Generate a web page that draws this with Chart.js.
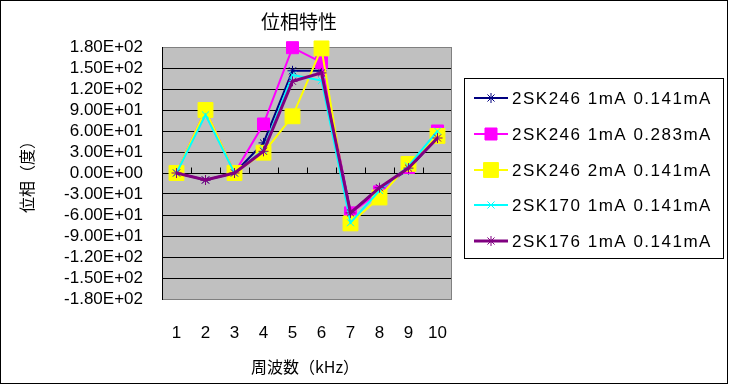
<!DOCTYPE html>
<html>
<head>
<meta charset="utf-8">
<script src="https://cdn.jsdelivr.net/npm/chart.js@4.4.1/dist/chart.umd.min.js"></script>
<style>
  html, body { margin: 0; padding: 0; background: #fff; }
</style>
</head>
<body>
<canvas id="myChart" width="732" height="385"></canvas>
<script>
let labels = ['1', '2', '3', '4', '5', '6', '7', '8', '9', '10'];
let seriesNames = ['2SK246 1mA 0.141mA', '2SK246 1mA 0.283mA', '2SK246 2mA 0.141mA', '2SK170 1mA 0.141mA', '2SK176 1mA 0.141mA'];
let sk246a = [0, -10, 0, 43, 146, 146, -56, -22, 5, 52];
let sk246b = [0, 90, 0, 70, 179, 158, -57, -27, 8, 60];
let sk246c = [0, 90, 0, 29, 81, 178, -72, -35, 13, 53];
let sk170 = [0, 83, 0, 33, 140, 132, -71, -25, 10, 60];
let sk176 = [0, -10, 0, 31, 131, 143, -57, -21, 7, 50];
let yTicks = [-180, -150, -120, -90, -60, -30, 0, 30, 60, 90, 120, 150, 180];

let tickFont = { family: 'Liberation Sans', size: 17 };
let jpFont = '"Noto Sans CJK JP"';

function sci(v) {
  if (v === 0) return '0.00E+00';
  let e = Math.floor(Math.log10(Math.abs(v)));
  let m = v / Math.pow(10, e);
  return m.toFixed(2) + 'E+' + String(e).padStart(2, '0');
}

function series(i, data, color, style, radius, width, order) {
  return {
    label: seriesNames[i],
    data: data,
    borderColor: color,
    backgroundColor: color,
    borderWidth: width,
    pointStyle: style,
    pointRadius: radius,
    pointBorderWidth: 1,
    pointBorderColor: color,
    pointBackgroundColor: color,
    tension: 0,
    clip: false,
    order: order
  };
}

let datasets = [
  series(0, sk246a, '#000080', 'star', 5, 2, 5),
  series(1, sk246b, '#FF00FF', 'rect', 8.5, 2, 4),
  series(2, sk246c, '#FFFF00', 'rect', 10.5, 2, 3),
  series(3, sk170, '#00FFFF', 'crossRot', 5, 2, 2),
  series(4, sk176, '#800080', 'star', 5, 3, 1)
];

// gray plot background, right border, little ticks on the zero line
let plotDecor = {
  id: 'plotDecor',
  beforeDraw(chart) {
    let a = chart.chartArea;
    let c = chart.ctx;
    c.save();
    c.fillStyle = '#C0C0C0';
    c.fillRect(a.left, a.top, a.right - a.left, a.bottom - a.top);
    c.restore();
  },
  beforeDatasetsDraw(chart) {
    let a = chart.chartArea;
    let c = chart.ctx;
    let xs = chart.scales.x;
    let y0 = Math.round(chart.scales.y.getPixelForValue(0)) + 0.5;
    c.save();
    c.strokeStyle = '#808080';
    c.lineWidth = 1;
    c.beginPath();
    c.moveTo(a.right - 0.5, a.top);
    c.lineTo(a.right - 0.5, a.bottom);
    c.stroke();
    c.strokeStyle = '#000';
    c.beginPath();
    for (let i = 1; i < labels.length; i++) {
      let x = Math.round((xs.getPixelForValue(i - 1) + xs.getPixelForValue(i)) / 2) + 0.5;
      c.moveTo(x, y0);
      c.lineTo(x, y0 - 6);
    }
    c.stroke();
    c.restore();
  }
};

// titles, legend box and outer frame
let extras = {
  id: 'extras',
  afterDraw(chart) {
    let c = chart.ctx;
    c.save();
    c.fillStyle = '#000';
    c.textAlign = 'center';
    c.textBaseline = 'middle';
    c.font = '19px ' + jpFont;
    c.fillText('位相特性', 299, 22);
    c.font = '16px ' + jpFont;
    c.fillText('周波数（kHz）', 305, 367);
    c.save();
    c.translate(27, 173);
    c.rotate(-Math.PI / 2);
    c.fillText('位相（度）', 0, 0);
    c.restore();

    // legend
    c.strokeStyle = '#000';
    c.lineWidth = 1;
    c.strokeRect(464.5, 78.5, 259, 180);
    let rowY = [98, 134, 170, 205, 241];
    chart.data.datasets.forEach((ds, i) => {
      let y = rowY[i];
      c.strokeStyle = ds.borderColor;
      c.lineWidth = ds.borderWidth;
      c.beginPath();
      c.moveTo(474, y);
      c.lineTo(508, y);
      c.stroke();
      c.fillStyle = ds.pointBackgroundColor;
      c.strokeStyle = ds.pointBorderColor;
      c.lineWidth = 1;
      Chart.helpers.drawPoint(c, { pointStyle: ds.pointStyle, radius: ds.pointRadius, rotation: 0, borderWidth: 1 }, 491, y);
      c.fillStyle = '#000';
      c.textAlign = 'left';
      c.font = '17px "Liberation Sans"';
      c.letterSpacing = '1.5px';
      c.fillText(ds.label, 512, y + 1);
      c.letterSpacing = '0px';
    });

    c.strokeStyle = '#000';
    c.lineWidth = 1;
    c.strokeRect(0.5, 0.5, 727, 383);
    c.restore();
  }
};

let ctx1 = document.getElementById('myChart').getContext('2d');
let myChart = new Chart(ctx1, {
  type: 'line',
  data: {
    labels: labels,
    datasets: datasets
  },
  options: {
    responsive: false,
    animation: false,
    layout: {
      padding: { left: 0, top: 47, right: 280, bottom: 0 }
    },
    plugins: {
      legend: { display: false },
      title: { display: false },
      tooltip: { enabled: false }
    },
    scales: {
      x: {
        offset: true,
        grid: { display: false, drawTicks: false },
        border: { display: false },
        ticks: { padding: 24, color: '#000', font: tickFont, maxRotation: 0, autoSkip: false },
        afterFit: (s) => { s.height = 86; }
      },
      y: {
        min: -180,
        max: 180,
        afterBuildTicks: (s) => { s.ticks = yTicks.map(v => ({ value: v })); },
        ticks: { padding: 19, color: '#000', font: tickFont, autoSkip: false, callback: (v) => sci(v) },
        grid: {
          drawTicks: false,
          color: (c) => (c.tick && Math.abs(c.tick.value) === 180) ? '#808080' : '#000'
        },
        border: { display: true, color: '#000', width: 1 },
        afterFit: (s) => { s.width = 162; }
      }
    }
  },
  plugins: [plotDecor, extras]
});
</script>
</body>
</html>
